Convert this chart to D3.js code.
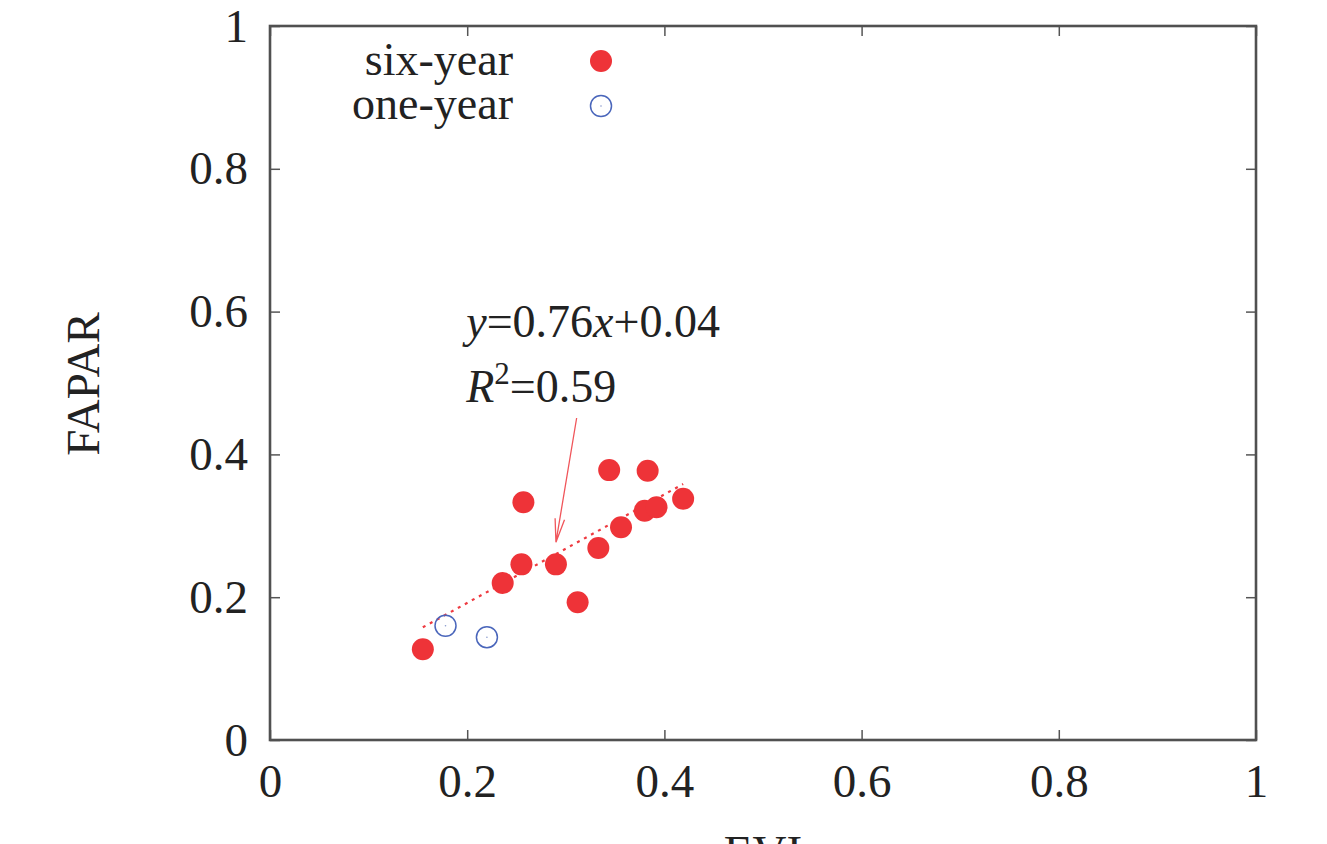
<!DOCTYPE html>
<meta charset="utf-8">
<html>
<head>
    <script src="https://d3js.org/d3.v7.min.js"></script>
    <style>
        body { margin: 0; background: #fff; }
        text { font-family: "Liberation Serif", "DejaVu Serif", serif; fill: #222; }
    </style>
</head>
<body>
    <div id="chart"></div>
    <script>
        // values
        var sixEvi   = [0.155, 0.236, 0.255, 0.257, 0.290, 0.312, 0.333, 0.344, 0.356, 0.383, 0.380, 0.392, 0.419];
        var sixFapar = [0.127, 0.220, 0.246, 0.333, 0.246, 0.193, 0.269, 0.378, 0.298, 0.377, 0.321, 0.326, 0.338];
        var oneEvi   = [0.178, 0.220];
        var oneFapar = [0.160, 0.144];
        var tickValues = [0, 0.2, 0.4, 0.6, 0.8, 1];
        var tickLabels = ["0", "0.2", "0.4", "0.6", "0.8", "1"];
        var fitSlope = 0.76, fitIntercept = 0.04;
        var fitRange = [0.155, 0.419];
        var arrowFrom = [0.311, 0.451], arrowTo = [0.290, 0.277];

        var W = 1327, H = 844;
        var margin = { top: 26, right: 71, bottom: 104, left: 270 },
            width = W - margin.left - margin.right,
            height = H - margin.top - margin.bottom;

        var svg = d3.select("#chart").append("svg")
            .attr("width", W).attr("height", H);
        var g = svg.append("g")
            .attr("transform", "translate(" + margin.left + "," + margin.top + ")");

        var x = d3.scaleLinear().domain([0, 1]).range([0, width]);
        var y = d3.scaleLinear().domain([0, 1]).range([height, 0]);
        var fmt = function (d, i) { return tickLabels[i]; };

        function styleAxis(sel) {
            sel.select(".domain").remove();
            sel.selectAll(".tick line").attr("stroke", "#555").attr("stroke-width", 1.5);
            sel.selectAll(".tick text")
                .style("font-size", "47px").attr("fill", "#222");
        }

        g.append("g").attr("transform", "translate(0," + height + ")")
            .call(d3.axisBottom(x).tickValues(tickValues).tickFormat(fmt).tickSize(-10).tickPadding(24))
            .call(styleAxis);
        g.append("g")
            .call(d3.axisTop(x).tickValues(tickValues).tickFormat("").tickSize(-10))
            .call(styleAxis);
        g.append("g")
            .call(d3.axisLeft(y).tickValues(tickValues).tickFormat(fmt).tickSize(-10).tickPadding(22))
            .call(styleAxis);
        g.append("g").attr("transform", "translate(" + width + ",0)")
            .call(d3.axisRight(y).tickValues(tickValues).tickFormat("").tickSize(-10))
            .call(styleAxis);
        g.selectAll(".tick text").attr("font-family", null);

        // frame
        g.append("rect")
            .attr("width", width).attr("height", height)
            .attr("fill", "none").attr("stroke", "#505050").attr("stroke-width", 2.6);

        // axis titles
        g.append("text")
            .attr("transform", "translate(-171," + (height / 2 + 1) + ") rotate(-90)")
            .attr("text-anchor", "middle")
            .style("font-size", "47px")
            .text("FAPAR");
        g.append("text")
            .attr("x", width / 2).attr("y", height + 128)
            .attr("text-anchor", "middle")
            .style("font-size", "47px")
            .text("EVI");

        // regression line
        g.append("line")
            .attr("x1", x(fitRange[0])).attr("y1", y(fitSlope * fitRange[0] + fitIntercept))
            .attr("x2", x(fitRange[1])).attr("y2", y(fitSlope * fitRange[1] + fitIntercept))
            .attr("stroke", "#ee3a40").attr("stroke-width", 2.2)
            .attr("stroke-dasharray", "3,5");

        // annotation arrow
        var ax1 = x(arrowFrom[0]), ay1 = y(arrowFrom[1]),
            ax2 = x(arrowTo[0]), ay2 = y(arrowTo[1]);
        var ang = Math.atan2(ay2 - ay1, ax2 - ax1), hl = 24, ha = 0.2;
        g.append("path")
            .attr("d", "M" + ax1 + "," + ay1 + "L" + ax2 + "," + ay2 +
                "M" + (ax2 - hl * Math.cos(ang - ha)) + "," + (ay2 - hl * Math.sin(ang - ha)) +
                "L" + ax2 + "," + ay2 +
                "L" + (ax2 - hl * Math.cos(ang + ha)) + "," + (ay2 - hl * Math.sin(ang + ha)))
            .attr("fill", "none").attr("stroke", "#f0555a").attr("stroke-width", 1.3);

        // equation text
        var eq = g.append("text").attr("x", x(0.199)).attr("y", y(0.564))
            .style("font-size", "46px");
        eq.append("tspan").attr("font-style", "italic").text("y");
        eq.append("tspan").text("=0.76");
        eq.append("tspan").attr("font-style", "italic").text("x");
        eq.append("tspan").text("+0.04");

        var r2 = g.append("text").attr("x", x(0.199)).attr("y", y(0.474))
            .style("font-size", "46px");
        r2.append("tspan").attr("font-style", "italic").text("R");
        r2.append("tspan").attr("dy", -18).style("font-size", "31px").text("2");
        r2.append("tspan").attr("dy", 18).text("=0.59");

        // six-year points
        g.append("g").selectAll("circle")
            .data(sixEvi).enter().append("circle")
            .attr("cx", function (d) { return x(d); })
            .attr("cy", function (d, i) { return y(sixFapar[i]); })
            .attr("r", 11)
            .attr("fill", "#ee3338");

        // one-year points
        var one = g.append("g").selectAll("g")
            .data(oneEvi).enter().append("g")
            .attr("transform", function (d, i) { return "translate(" + x(d) + "," + y(oneFapar[i]) + ")"; });
        one.append("circle").attr("r", 10.5)
            .attr("fill", "none").attr("stroke", "#4a66bb").attr("stroke-width", 1.5);
        one.append("circle").attr("r", 0.8).attr("fill", "#8899cc");

        // legend
        var legend = svg.append("g");
        legend.append("text").attr("x", 513).attr("y", 75)
            .attr("text-anchor", "end").style("font-size", "46px").text("six-year");
        legend.append("text").attr("x", 513).attr("y", 119)
            .attr("text-anchor", "end").style("font-size", "46px").text("one-year");
        legend.append("circle").attr("cx", 601).attr("cy", 61).attr("r", 11).attr("fill", "#ee3338");
        legend.append("circle").attr("cx", 601).attr("cy", 106).attr("r", 10.5)
            .attr("fill", "none").attr("stroke", "#4a66bb").attr("stroke-width", 1.5);
        legend.append("circle").attr("cx", 601).attr("cy", 106).attr("r", 0.8).attr("fill", "#8899cc");
    </script>
</body>
</html>
